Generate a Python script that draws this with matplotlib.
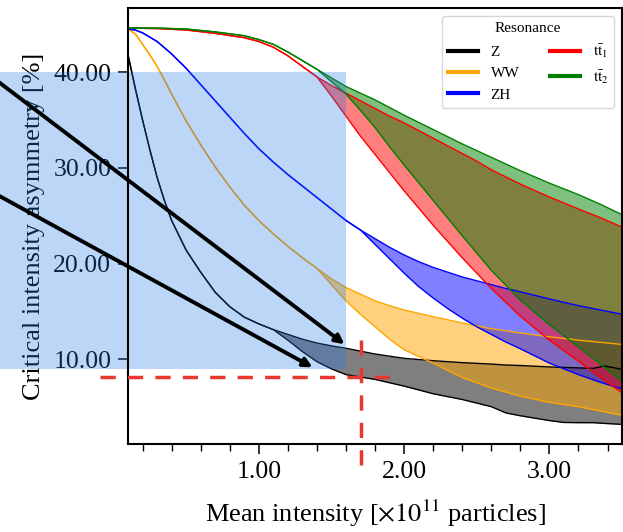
import matplotlib
matplotlib.use('Agg')
import matplotlib.pyplot as plt
from matplotlib.patches import Rectangle
from matplotlib.lines import Line2D
from matplotlib.ticker import FormatStrFormatter, MultipleLocator

plt.rcParams['font.family'] = ['Liberation Serif', 'DejaVu Serif']
plt.rcParams['mathtext.fontset'] = 'stix'

# ---------------- data ----------------
z_x = [0.10, 0.15, 0.20, 0.25, 0.30, 0.35, 0.40, 0.50, 0.60, 0.70, 0.80, 0.90, 1.00, 1.10,
       1.20, 1.30, 1.40, 1.50, 1.60, 1.70, 1.80, 2.00, 2.20, 2.40, 2.60, 2.70, 2.80, 3.00,
       3.10, 3.20, 3.30, 3.38, 3.50]
z_upper = [41.8, 38.3, 35.0, 31.9, 29.0, 26.6, 24.5, 21.4, 19.1, 17.0, 15.5, 14.4, 13.7, 13.1,
           12.6, 12.1, 11.7, 11.4, 11.15, 10.85, 10.55, 10.1, 9.85, 9.65, 9.5, 9.4, 9.35, 9.2,
           9.15, 9.1, 9.05, 9.3, 8.95]
z_lower = [41.8, 38.3, 35.0, 31.9, 29.0, 26.6, 24.5, 21.4, 19.1, 17.0, 15.5, 14.4, 13.7, 13.1,
           12.0, 10.8, 9.75, 9.0, 8.4, 8.15, 7.9, 7.2, 6.4, 5.8, 5.05, 4.4, 4.1, 3.6,
           3.4, 3.38, 3.38, 3.3, 3.2]

ww_x = [0.10, 0.15, 0.20, 0.25, 0.30, 0.35, 0.40, 0.50, 0.60, 0.70, 0.80, 0.90, 1.00, 1.10,
        1.20, 1.30, 1.40, 1.50, 1.60, 1.70, 1.80, 1.90, 2.00, 2.20, 2.40, 2.60, 2.80, 3.00,
        3.20, 3.50]
ww_upper = [44.5, 44.0, 42.9, 41.8, 40.6, 39.2, 37.7, 34.9, 32.4, 30.1, 28.0, 26.1, 24.5, 23.1,
            21.8, 20.6, 19.5, 18.4, 17.5, 16.8, 16.1, 15.6, 15.15, 14.45, 13.8, 13.2, 12.75, 12.35,
            12.0, 11.55]
ww_lower = [44.5, 44.0, 42.9, 41.8, 40.6, 39.2, 37.7, 34.9, 32.4, 30.1, 28.0, 26.1, 24.5, 23.1,
            21.8, 20.6, 19.5, 17.8, 16.1, 14.7, 13.4, 12.1, 11.0, 9.6, 8.1, 7.0, 6.15, 5.5,
            5.05, 4.15]

zh_x = [0.10, 0.15, 0.20, 0.30, 0.40, 0.50, 0.60, 0.70, 0.80, 0.90, 1.00, 1.10, 1.20, 1.30,
        1.40, 1.50, 1.60, 1.70, 1.80, 1.90, 2.00, 2.10, 2.20, 2.30, 2.40, 2.50, 2.60, 2.70,
        2.80, 3.00, 3.20, 3.35, 3.50]
zh_upper = [44.5, 44.4, 44.1, 43.2, 41.9, 40.4, 38.7, 37.0, 35.3, 33.6, 32.0, 30.6, 29.3, 28.1,
            26.9, 25.7, 24.5, 23.5, 22.6, 21.7, 20.9, 20.2, 19.6, 19.1, 18.6, 18.2, 17.8, 17.4,
            17.05, 16.3, 15.6, 15.15, 14.7]
zh_lower = [44.5, 44.4, 44.1, 43.2, 41.9, 40.4, 38.7, 37.0, 35.3, 33.6, 32.0, 30.6, 29.3, 28.1,
            26.9, 25.7, 24.5, 23.5, 22.0, 20.5, 19.0, 17.6, 16.4, 15.3, 14.3, 13.4, 12.6, 11.8,
            11.1, 9.6, 8.4, 7.6, 6.9]

tt_x = [0.10, 0.30, 0.50, 0.70, 0.90, 1.00, 1.10, 1.20, 1.30, 1.40, 1.50, 1.60, 1.70, 1.80,
        1.90, 2.00, 2.20, 2.40, 2.50, 2.60, 2.80, 3.00, 3.20, 3.35, 3.50]
tt1_upper = [44.6, 44.55, 44.4, 44.05, 43.6, 43.2, 42.6, 41.7, 40.6, 39.5, 38.6, 37.8, 37.0, 36.2,
             35.4, 34.7, 33.1, 31.5, 30.7, 29.8, 28.3, 26.95, 25.7, 24.8, 23.8]
tt1_lower = [44.6, 44.55, 44.4, 44.05, 43.6, 43.2, 42.6, 41.7, 40.6, 39.5, 37.5, 35.4, 33.3, 31.4,
             29.5, 27.6, 24.0, 20.6, 19.0, 17.4, 14.5, 12.0, 9.8, 8.1, 6.5]
tt2_upper = [44.6, 44.6, 44.5, 44.2, 43.8, 43.4, 42.9, 42.1, 41.2, 40.3, 39.4, 38.5, 37.8, 37.1,
             36.3, 35.5, 34.0, 32.5, 31.8, 31.1, 29.7, 28.4, 27.2, 26.2, 25.1]
tt2_lower = [44.6, 44.6, 44.5, 44.2, 43.8, 43.4, 42.9, 42.1, 41.2, 40.3, 39.0, 37.7, 36.0, 34.2,
             32.2, 30.3, 26.6, 22.9, 21.1, 19.3, 16.2, 13.6, 11.3, 9.5, 7.7]

labels = ['Z', 'WW', 'ZH', r'$\mathrm{t\bar{t}}_1$', r'$\mathrm{t\bar{t}}_2$']
colors = ['black', 'orange', 'blue', 'red', 'green']

x_ticks = [1.0, 2.0, 3.0]
y_ticks = [10.0, 20.0, 30.0, 40.0]

# annotation values
region_x_max = 1.6
region_y = (9.0, 40.0)
cross_x, cross_y = 1.70, 8.1
arrow1 = ((-1.0, 41.38), (1.59, 11.57))
arrow2 = ((-1.0, 28.84), (1.37, 9.16))

# ---------------- plot ----------------
fig = plt.figure(figsize=(6.23, 5.32), dpi=100)
ax = fig.add_axes([0.2055, 0.1654, 0.7930, 0.8196])

series = [
    (z_x, z_lower, z_upper),
    (ww_x, ww_lower, ww_upper),
    (zh_x, zh_lower, zh_upper),
    (tt_x, tt1_lower, tt1_upper),
    (tt_x, tt2_lower, tt2_upper),
]
for (x, lo, up), c in zip(series, colors):
    ax.fill_between(x, lo, up, color=c, alpha=0.5, lw=0, zorder=1)
for (x, lo, up), c in zip(series, colors):
    ax.plot(x, up, color=c, lw=1.0, zorder=2)
    ax.plot(x, lo, color=c, lw=1.0, zorder=2)

ax.set_xlim(0.1, 3.5)
ax.set_ylim(1.15, 46.7)

# highlighted region
rect = Rectangle((-1.5, region_y[0]), region_x_max + 1.5, region_y[1] - region_y[0],
                 facecolor='#1e78e6', alpha=0.3, edgecolor='none', clip_on=False, zorder=2.2)
ax.add_patch(rect)

# arrows
for (start, end) in (arrow1, arrow2):
    ax.annotate('', xy=end, xytext=start, annotation_clip=False,
                arrowprops=dict(arrowstyle='-|>', color='black', lw=2.8,
                                mutation_scale=13, shrinkA=0, shrinkB=0),
                zorder=4)

# red dashed cross
red = '#e8392e'
ax.plot([-0.09, 1.91], [cross_y, cross_y], color=red, lw=2.5, ls=(0, (4.4, 3.5)),
        clip_on=False, zorder=5)
ax.plot([cross_x, cross_x], [12.0, -1.15], color=red, lw=2.5, ls=(0, (4.4, 3.5)),
        clip_on=False, zorder=5)

# ticks
ax.set_xticks(x_ticks)
ax.set_yticks(y_ticks)
ax.xaxis.set_minor_locator(MultipleLocator(0.2))
ax.xaxis.set_major_formatter(FormatStrFormatter('%.2f'))
ax.yaxis.set_major_formatter(FormatStrFormatter('%.2f'))
ax.tick_params(axis='both', which='major', labelsize=18.5, length=7, width=1.1, pad=5)
ax.tick_params(axis='x', which='minor', length=5, width=1.0)
for s in ax.spines.values():
    s.set_linewidth(1.5)

ax.set_xlabel(r'Mean intensity [$\times10^{11}$ particles]', fontsize=19)
ax.set_ylabel('Critical intensity asymmetry [%]', fontsize=19)
ax.yaxis.set_label_coords(-0.168, 0.5)
ax.xaxis.set_label_coords(0.5, -0.124)

handles = [Line2D([], [], color=c, lw=3) for c in colors]
leg = ax.legend(handles, labels, title='Resonance', ncol=2, loc='upper right',
                fontsize=11, title_fontsize=11)
leg.set_zorder(6)

fig.savefig('out.png', dpi=100)
